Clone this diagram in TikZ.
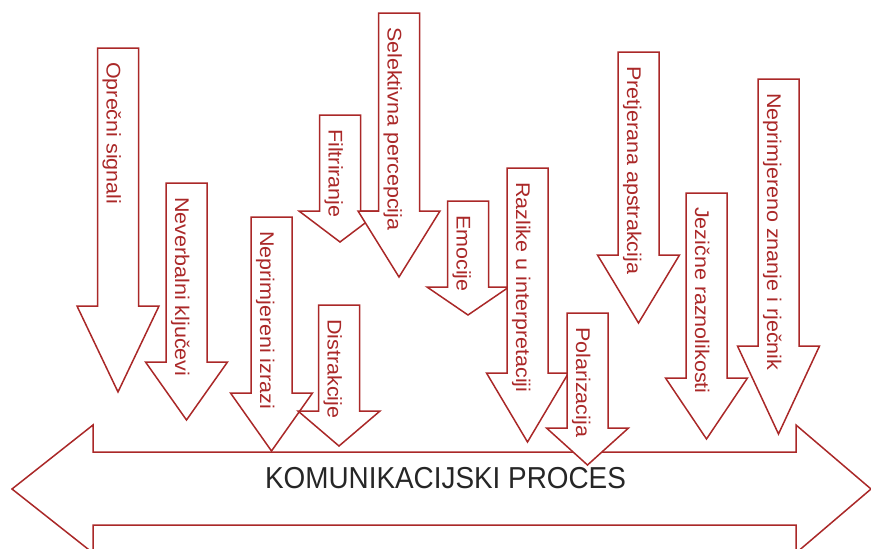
\documentclass[tikz,border=0pt]{standalone}
\usepackage{fontspec}
\setmainfont{Liberation Sans}
\definecolor{arrred}{RGB}{170,40,40}
\tikzset{
  arrline/.style={draw=arrred, line width=1.5pt, fill=white, line join=miter},
  lbl/.style={rotate=-90, anchor=base west, inner sep=0pt, text=arrred,
              font=\fontsize{21.5}{21.5}\selectfont},
  maintext/.style={anchor=base, inner sep=0pt, text=black!85,
              font=\fontsize{30.3}{30.3}\selectfont}
}
\newcommand\downarr[6]{%
  \draw[arrline] (#2-20.5,#3) -- (#2+20.5,#3) -- (#2+20.5,#4) -- (#2+41,#4)
     -- (#2,#5) -- (#2-41,#4) -- (#2-20.5,#4) -- cycle;
  \node[lbl] (#1) at (#2-11.5,#3+14) {\scalebox{1}[0.92]{#6}};
}
\begin{document}
\begin{tikzpicture}[x=1pt,y=-1pt]
\useasboundingbox (0,0) rectangle (871,549);
\clip (0,0) rectangle (871,549);
% big double arrow
\draw[arrline] (12,489) -- (93,425) -- (93,452) -- (796,452) -- (796,425)
  -- (871,489) -- (796,553) -- (796,525) -- (93,525) -- (93,553) -- cycle;
\node[maintext] (proc) at (445.5,488) {\scalebox{0.92}[1]{KOMUNIKACIJSKI PROCES}};
% down arrows
\downarr{a1}{118}{48}{306}{392}{Oprečni signali}
\downarr{a2}{186.5}{183}{362}{420}{Neverbalni ključevi}
\downarr{a3}{271.5}{217}{393}{451}{Neprimjereni izrazi}
\downarr{a7}{339}{305}{411}{446}{Distrakcije}
\downarr{a4}{340}{115}{211}{242}{Filtriranje}
\downarr{a5}{399}{13}{211}{277}{Selektivna percepcija}
\downarr{a6}{468}{201}{287}{315}{Emocije}
\downarr{a8}{527.5}{168}{373}{442}{Razlike u interpretaciji}
\downarr{a9}{587.5}{313}{428}{465}{Polarizacija}
\downarr{a10}{638.5}{52}{255}{323}{Pretjerana apstrakcija}
\downarr{a11}{706.5}{193}{378}{439}{Jezične raznolikosti}
\downarr{a12}{778.5}{79}{346}{434}{Neprimjereno znanje i rječnik}
\end{tikzpicture}
\end{document}
